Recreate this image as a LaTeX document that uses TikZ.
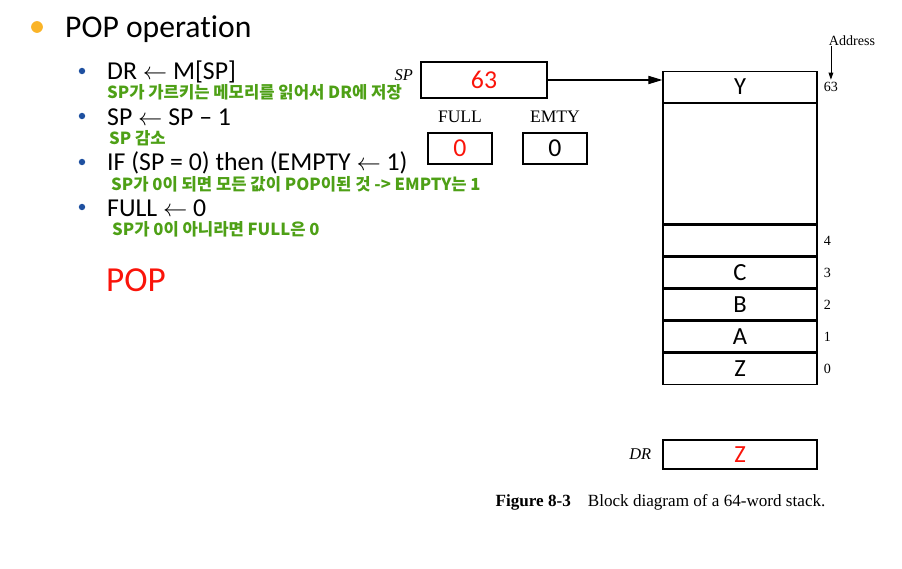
\documentclass[tikz,border=0pt]{standalone}
\usepackage{fontspec}
\setmainfont{Liberation Serif}
\newfontfamily\slidefont[Ligatures=NoCommon]{Carlito}
\newfontfamily\krfont{Noto Sans CJK KR}
\usetikzlibrary{arrows.meta,positioning}
\definecolor{notegreen}{RGB}{78,160,22}
\definecolor{popred}{RGB}{250,20,10}
\definecolor{dotblue}{RGB}{30,80,160}
\definecolor{dotorange}{RGB}{250,180,40}

\begin{document}
\begin{tikzpicture}[x=0.03cm, y=-0.03cm,
    cell/.style={draw, line width=1.1pt, minimum width=4.62cm, minimum height=0.924cm, inner sep=0pt, font=\slidefont\fontsize{21}{21}\selectfont},
    reg/.style={draw, line width=1.1pt, inner sep=0pt, font=\slidefont\fontsize{22}{22}\selectfont},
    cmd/.style={anchor=west, inner sep=0pt, font=\slidefont\fontsize{22}{24}\selectfont},
    note/.style={anchor=west, inner sep=0pt, text=notegreen, font=\krfont\bfseries\fontsize{14.2}{15}\selectfont},
    lbl/.style={inner sep=0pt, font=\fontsize{15}{17}\selectfont},
    addr/.style={anchor=west, inner sep=0pt, font=\fontsize{12}{14}\selectfont},
    bul/.style={circle, fill=dotblue, inner sep=0pt, minimum size=5.5pt},
]
\useasboundingbox (0,0) rectangle (902,569);

% slide text
\node[circle, fill=dotorange, minimum size=10pt, inner sep=0pt] (b0) at (37,27) {};
\node[anchor=west, inner sep=0pt, font=\slidefont\fontsize{27}{30}\selectfont] (title) at (65,29) {POP operation};
\foreach \y/\n in {71/1, 116/2, 162/3, 207/4} {
  \node[bul] (d\n) at (82,\y) {};
}
\node[cmd] (c1) at (107,72) {DR $\leftarrow$ M[SP]};
\node[note] (n1) at (107,92) {SP가 가르키는 메모리를 읽어서 DR에 저장};
\node[cmd] (c2) at (107,117) {SP $\leftarrow$ SP – 1};
\node[note] (n2) at (109,138) {SP 감소};
\node[cmd] (c3) at (107,163) {IF (SP = 0) then (EMPTY $\leftarrow$ 1)};
\node[note] (n3) at (111,184) {SP가 0이 되면 모든 값이 POP이된 것 -> EMPTY는 1};
\node[cmd] (c4) at (107,208) {FULL $\leftarrow$ 0};
\node[note] (n4) at (112,229) {SP가 0이 아니라면 FULL은 0};
\node[anchor=west, inner sep=0pt, text=popred, font=\slidefont\fontsize{30}{32}\selectfont] (pop) at (106,280) {POP};

% registers
\node[reg, minimum width=3.78cm, minimum height=1.08cm, text=popred] (sp) at (484,80) {63};
\node[lbl, font=\itshape\fontsize{14}{16}\selectfont, anchor=east] (splbl) at (413,75) {SP};
\node[reg, minimum width=1.92cm, minimum height=0.93cm, text=popred] (full) at (460,148.5) {0};
\node[reg, minimum width=1.92cm, minimum height=0.93cm] (empty) at (555,148.5) {0};
\node[lbl, above=0.28cm of full] (fulllbl) {FULL};
\node[lbl, above=0.28cm of empty] (emptylbl) {EMTY};

% stack
\node[cell] (top) at (740,87) {Y};
\node[cell, minimum height=3.6cm, below=0pt of top] (free) {};
\node[cell, below=0pt of free] (m4) {};
\foreach \v/\i/\j in {C/3/4, B/2/3, A/1/2, Z/0/1} {
  \node[cell, below=0pt of m\j] (m\i) {\v};
}
\foreach \i in {0,...,4} {
  \node[addr, right=0.18cm of m\i] (a\i) {\i};
}
\node[addr, right=0.18cm of top] (a63) {63};
\node[lbl, font=\fontsize{12}{14}\selectfont] (addr) at (852,41) {Address};

\node[cell, minimum height=0.87cm, text=popred] (dr) at (740,454.5) {Z};
\node[lbl, font=\itshape\fontsize{14}{16}\selectfont, left=0.33cm of dr] (drlbl) {DR};
\node[lbl, font=\fontsize{14.6}{16}\selectfont] (cap) at (660.5,502) {\textbf{Figure 8-3}\quad Block diagram of a 64-word stack.};

\draw[line width=1.1pt, -{Triangle[length=12pt, width=7pt]}] (sp.east) -- (sp.east -| top.west);
\draw[line width=0.7pt, -{Triangle[length=6pt, width=4pt]}, shorten >=2pt] (addr.south -| a63) -- (a63.north);
\end{tikzpicture}
\end{document}
